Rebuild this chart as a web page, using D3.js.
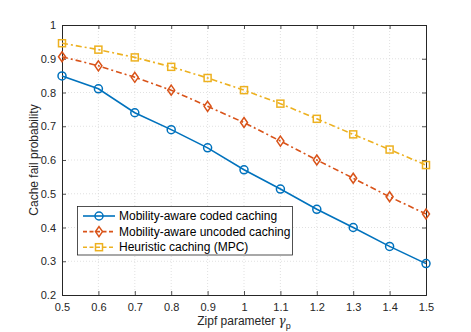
<!DOCTYPE html>
<html><head><meta charset="utf-8">
<script src="https://cdn.jsdelivr.net/npm/d3@7"></script>
<style>body{margin:0;background:#fff}svg{display:block}text{font-family:"Liberation Sans",Arial,sans-serif}</style>
</head><body><svg id="c" width="471" height="332"></svg>
<script>
const xVals = [0.5,0.6,0.7,0.8,0.9,1.0,1.1,1.2,1.3,1.4,1.5];
const codedVals = [0.849,0.811,0.740,0.690,0.636,0.571,0.514,0.454,0.400,0.344,0.293];
const uncodedVals = [0.906,0.879,0.845,0.807,0.759,0.711,0.656,0.600,0.546,0.491,0.440];
const mpcVals = [0.946,0.927,0.904,0.876,0.843,0.807,0.767,0.722,0.676,0.631,0.585];
const xTicks = [0.5,0.6,0.7,0.8,0.9,1,1.1,1.2,1.3,1.4,1.5];
const yTicks = [0.2,0.3,0.4,0.5,0.6,0.7,0.8,0.9,1];
const seriesNames = ["Mobility-aware coded caching","Mobility-aware uncoded caching","Heuristic caching (MPC)"];
const colors = ["#0072BD","#D95319","#EDB120"];

const svg = d3.select("#c");
const L=62,R=426,T=25,B=295;
const x = d3.scaleLinear().domain([0.5,1.5]).range([L,R]);
const y = d3.scaleLinear().domain([0.2,1]).range([B,T]);
const axisCol="#262626";

// grid
const g = svg.append("g");
g.selectAll(".gx").data(xTicks.slice(1,-1)).enter().append("line")
 .attr("x1",d=>x(d)).attr("x2",d=>x(d)).attr("y1",T).attr("y2",B)
 .attr("stroke","#d9d9d9").attr("stroke-width",0.8).attr("stroke-dasharray","1,2");
g.selectAll(".gy").data(yTicks.slice(1,-1)).enter().append("line")
 .attr("y1",d=>y(d)).attr("y2",d=>y(d)).attr("x1",L).attr("x2",R)
 .attr("stroke","#d9d9d9").attr("stroke-width",0.8).attr("stroke-dasharray","1,2");

// axes
const fmt = d=>d3.format("")(+d.toFixed(1));
const xb = svg.append("g").attr("transform",`translate(0,${B})`)
 .call(d3.axisBottom(x).tickValues(xTicks).tickSize(-4).tickPadding(8).tickFormat(fmt));
const xt = svg.append("g").attr("transform",`translate(0,${T})`)
 .call(d3.axisTop(x).tickValues(xTicks).tickSize(-4).tickFormat(""));
const yl = svg.append("g").attr("transform",`translate(${L},0)`)
 .call(d3.axisLeft(y).tickValues(yTicks).tickSize(-4).tickPadding(6).tickFormat(fmt));
const yr = svg.append("g").attr("transform",`translate(${R},0)`)
 .call(d3.axisRight(y).tickValues(yTicks).tickSize(-4).tickFormat(""));
[xb,xt,yl,yr].forEach(a=>{
  a.selectAll("path").attr("stroke",axisCol).attr("stroke-width",1);
  a.selectAll("line").attr("stroke",axisCol).attr("stroke-width",0.8);
  a.selectAll("text").attr("fill",axisCol).style("font-size","11px").style("font-family","Liberation Sans, Arial, sans-serif");
});

// series
const data=[codedVals,uncodedVals,mpcVals];
const dashes=[null,"6,3,2,3","6,3,2,3"];
const line = d3.line().x((d,i)=>x(xVals[i])).y(d=>y(d));
function marker(sel,k,cx,cy){
  if(k===0) sel.append("circle").attr("cx",cx).attr("cy",cy).attr("r",4).attr("fill","none").attr("stroke",colors[0]).attr("stroke-width",1.5);
  else if(k===1) sel.append("path").attr("d",`M${cx},${cy-5}L${cx+3.5},${cy}L${cx},${cy+5}L${cx-3.5},${cy}Z`).attr("fill","none").attr("stroke",colors[1]).attr("stroke-width",1.5);
  else sel.append("rect").attr("x",cx-3.5).attr("y",cy-3.5).attr("width",7).attr("height",7).attr("fill","none").attr("stroke",colors[2]).attr("stroke-width",1.5);
}
data.slice().reverse().forEach((vals,ri)=>{
  const k=2-ri;
  svg.append("path").datum(vals).attr("d",line).attr("fill","none").attr("stroke",colors[k])
   .attr("stroke-width",1.6).attr("stroke-dasharray",dashes[k]);
  const mg=svg.append("g");
  vals.forEach((v,i)=>marker(mg,k,x(xVals[i]),y(v)));
});

// legend
const lg=svg.append("g");
lg.append("rect").attr("x",77.5).attr("y",206.5).attr("width",215).attr("height",48.5)
 .attr("fill","#fff").attr("stroke",axisCol).attr("stroke-width",0.8);
seriesNames.forEach((n,k)=>{
  const cy=216+k*15.6;
  lg.append("line").attr("x1",83).attr("x2",115).attr("y1",cy).attr("y2",cy)
   .attr("stroke",colors[k]).attr("stroke-width",1.6).attr("stroke-dasharray",k?"4,2.5":null);
  marker(lg,k,99,cy);
  lg.append("text").attr("x",119).attr("y",cy+4.2).text(n).attr("fill","#000").style("font-size","12px");
});

// labels
svg.append("text").attr("x",244).attr("y",325).attr("text-anchor","middle").attr("fill",axisCol)
 .style("font-size","12px").html('Zipf parameter <tspan font-family="DejaVu Serif" font-style="italic">γ</tspan><tspan dy="4" font-size="9px">p</tspan>');
svg.append("text").attr("transform","translate(38,160) rotate(-90)").attr("text-anchor","middle")
 .attr("fill",axisCol).style("font-size","12px").text("Cache fail probability");
</script></body></html>
